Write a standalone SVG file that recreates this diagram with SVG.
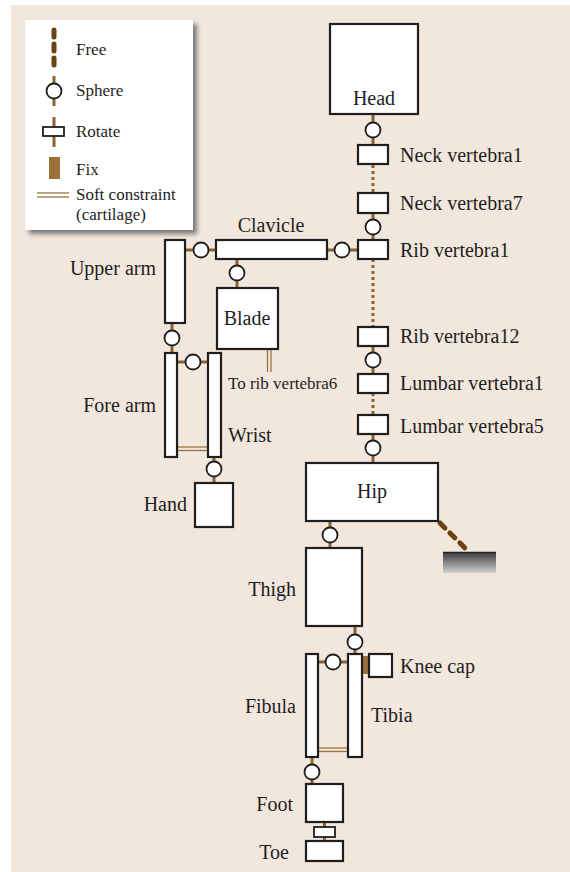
<svg xmlns="http://www.w3.org/2000/svg" width="570" height="872" viewBox="0 0 570 872">
<style>
.bg{fill:#f2e7dd}
.n{fill:#fff;stroke:#1e1e1e;stroke-width:2.2}
.j{fill:#fff;stroke:#1e1e1e;stroke-width:1.8}
.c{stroke:#8c6230;stroke-width:3;fill:none}
.d{stroke:#8c6230;stroke-width:3;fill:none;stroke-dasharray:3 3}
.f{stroke:#6b4310;stroke-width:5;fill:none;stroke-dasharray:7 7;stroke-linecap:round}
.s{stroke:#9a7440;stroke-width:1.3;fill:none}
.fix{fill:#9a6f38}
text{font-family:"Liberation Serif","Times New Roman",serif;fill:#1e1e1e;font-size:20px}
.sm{font-size:17px}
.e{text-anchor:end}
.m{text-anchor:middle}
</style>
<defs>
<linearGradient id="gnd" x1="0" y1="0" x2="0" y2="1">
<stop offset="0" stop-color="#3a3a3a"/>
<stop offset="1" stop-color="#d0d0d0"/>
</linearGradient>
<filter id="sh" x="-10%" y="-10%" width="130%" height="130%">
<feGaussianBlur stdDeviation="2.5"/>
</filter>
</defs>
<rect width="570" height="872" fill="#fff"/>
<rect class="bg" x="11" y="5" width="559" height="867"/>

<g id="legend">
<rect x="29" y="24" width="168" height="210" fill="#777" filter="url(#sh)"/>
<rect x="25" y="20" width="168" height="210" fill="#fff"/>
<line class="f" x1="54" y1="30" x2="54" y2="68"/>
<text class="sm" x="76" y="55">Free</text>
<line class="c" x1="54" y1="76" x2="54" y2="106"/>
<circle class="j" cx="54" cy="91" r="7.5"/>
<text class="sm" x="76" y="96">Sphere</text>
<line class="c" x1="54" y1="117" x2="54" y2="147"/>
<rect class="j" x="43" y="127" width="21" height="9"/>
<text class="sm" x="76" y="137">Rotate</text>
<rect class="fix" x="49" y="157" width="11" height="22"/>
<text class="sm" x="76" y="175">Fix</text>
<line class="s" x1="37" y1="193" x2="69" y2="193"/>
<line class="s" x1="37" y1="197" x2="69" y2="197"/>
<text class="sm" x="76" y="200">Soft constraint</text>
<text class="sm" x="76" y="220">(cartilage)</text>
</g>

<g id="connectors">
<line class="c" x1="373" y1="114" x2="373" y2="145"/>
<line class="d" x1="373" y1="165" x2="373" y2="193"/>
<line class="c" x1="373" y1="213" x2="373" y2="240"/>
<line class="d" x1="373" y1="259" x2="373" y2="327"/>
<line class="c" x1="373" y1="346" x2="373" y2="374"/>
<line class="d" x1="373" y1="393" x2="373" y2="415"/>
<line class="c" x1="373" y1="434" x2="373" y2="463"/>
<line class="c" x1="327" y1="250" x2="358" y2="250"/>
<line class="c" x1="185" y1="250" x2="216" y2="250"/>
<line class="c" x1="237" y1="259" x2="237" y2="288"/>
<line class="s" x1="267.5" y1="349" x2="267.5" y2="372"/>
<line class="s" x1="271" y1="349" x2="271" y2="372"/>
<line class="c" x1="172" y1="323" x2="172" y2="353"/>
<line class="c" x1="177" y1="362" x2="208" y2="362"/>
<line class="s" x1="178" y1="447" x2="208" y2="447"/>
<line class="s" x1="178" y1="450.5" x2="208" y2="450.5"/>
<line class="c" x1="214" y1="457" x2="214" y2="483"/>
<line class="f" x1="440" y1="523" x2="465" y2="548"/>
<line class="c" x1="330" y1="521" x2="330" y2="548"/>
<line class="c" x1="355" y1="626" x2="355" y2="654"/>
<line class="c" x1="318" y1="662" x2="348" y2="662"/>
<line class="s" x1="318" y1="748" x2="348" y2="748"/>
<line class="s" x1="318" y1="751.5" x2="348" y2="751.5"/>
<line class="c" x1="312" y1="757" x2="312" y2="784"/>
<line class="c" x1="324.5" y1="822" x2="324.5" y2="841"/>
<circle class="j" cx="373" cy="130" r="7.5"/>
<circle class="j" cx="373" cy="227" r="7.5"/>
<circle class="j" cx="373" cy="360" r="7.5"/>
<circle class="j" cx="373" cy="448" r="7.5"/>
<circle class="j" cx="342" cy="250" r="7.5"/>
<circle class="j" cx="201" cy="250" r="7.5"/>
<circle class="j" cx="237" cy="273" r="7.5"/>
<circle class="j" cx="172" cy="338" r="7.5"/>
<circle class="j" cx="193" cy="362" r="7.5"/>
<circle class="j" cx="214" cy="469" r="7.5"/>
<circle class="j" cx="330" cy="535" r="7.5"/>
<circle class="j" cx="355" cy="642" r="7.5"/>
<circle class="j" cx="333" cy="662" r="7.5"/>
<circle class="j" cx="312" cy="772" r="7.5"/>
<rect class="j" x="314" y="827" width="21" height="10"/>
<rect class="fix" x="362" y="656" width="8" height="18"/>
</g>

<g id="ground"><rect x="443" y="552" width="53" height="21" fill="url(#gnd)"/><line x1="443" y1="552.5" x2="496" y2="552.5" stroke="#222" stroke-width="1.5"/></g>

<g id="head"><rect class="n" x="330" y="24" width="88" height="90"/><text class="m" x="374" y="105">Head</text></g>
<g id="neck1"><rect class="n" x="358" y="145" width="30" height="19"/><text x="400" y="162">Neck vertebra1</text></g>
<g id="neck7"><rect class="n" x="358" y="193" width="30" height="20"/><text x="400" y="210">Neck vertebra7</text></g>
<g id="rib1"><rect class="n" x="358" y="240" width="30" height="19"/><text x="400" y="257">Rib vertebra1</text></g>
<g id="rib12"><rect class="n" x="358" y="327" width="30" height="19"/><text x="400" y="343">Rib vertebra12</text></g>
<g id="lumbar1"><rect class="n" x="358" y="374" width="30" height="19"/><text x="400" y="390">Lumbar vertebra1</text></g>
<g id="lumbar5"><rect class="n" x="358" y="415" width="30" height="19"/><text x="400" y="433">Lumbar vertebra5</text></g>
<g id="clavicle"><rect class="n" x="216" y="240" width="111" height="19"/><text class="m" x="271" y="232">Clavicle</text></g>
<g id="upperarm"><rect class="n" x="165" y="240" width="20" height="83"/><text class="e" x="156" y="275">Upper arm</text></g>
<g id="blade"><rect class="n" x="217" y="288" width="61" height="61"/><text class="m" x="247" y="325">Blade</text><text class="sm" x="228" y="389">To rib vertebra6</text></g>
<g id="forearm"><rect class="n" x="165" y="353" width="12" height="104"/><text class="e" x="156" y="412">Fore arm</text></g>
<g id="wrist"><rect class="n" x="208" y="353" width="13" height="104"/><text x="228" y="442">Wrist</text></g>
<g id="hand"><rect class="n" x="195" y="483" width="38" height="44"/><text class="e" x="187" y="511">Hand</text></g>
<g id="hip"><rect class="n" x="306" y="463" width="132" height="58"/><text class="m" x="372" y="498">Hip</text></g>
<g id="thigh"><rect class="n" x="306" y="548" width="56" height="78"/><text class="e" x="296" y="596">Thigh</text></g>
<g id="fibula"><rect class="n" x="306" y="654" width="12" height="103"/><text class="e" x="296" y="713">Fibula</text></g>
<g id="tibia"><rect class="n" x="348" y="654" width="14" height="103"/><text x="371" y="722">Tibia</text></g>
<g id="kneecap"><rect class="n" x="369" y="654" width="23" height="23"/><text x="400" y="673">Knee cap</text></g>
<g id="foot"><rect class="n" x="306" y="784" width="37" height="38"/><text class="e" x="293" y="811">Foot</text></g>
<g id="toe"><rect class="n" x="306" y="841" width="37" height="20"/><text class="e" x="289" y="859">Toe</text></g>
</svg>
